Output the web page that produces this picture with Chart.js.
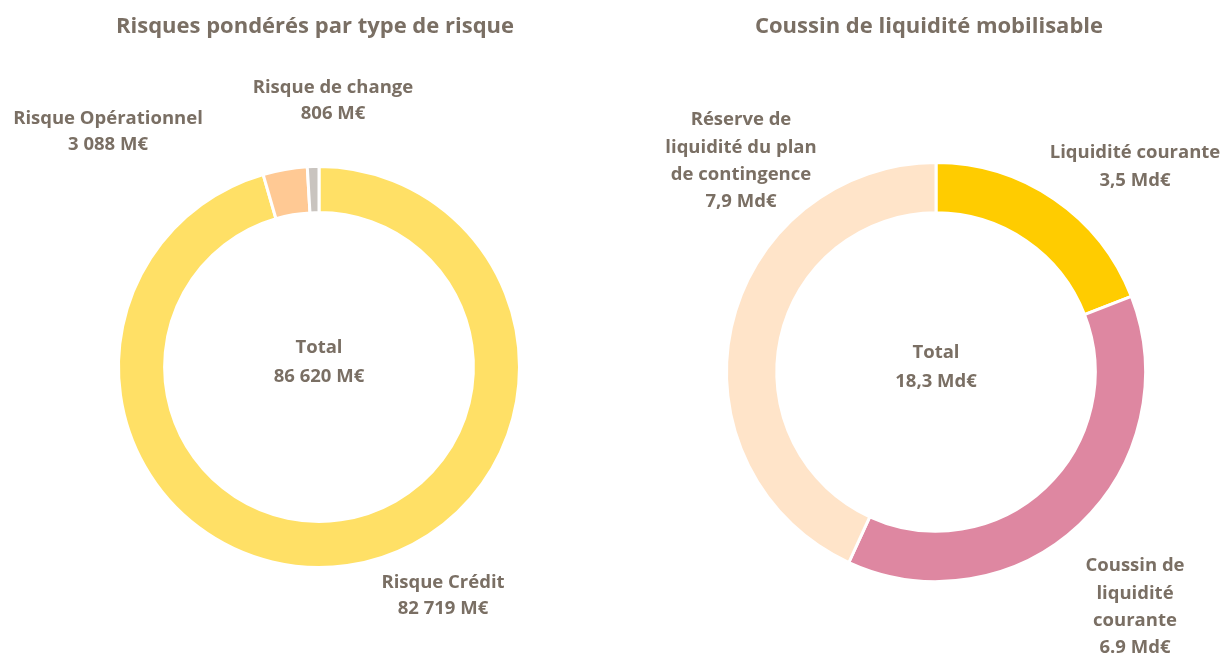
<!DOCTYPE html>
<html>
<head>
<meta charset="utf-8">
<script src="https://cdn.jsdelivr.net/npm/chart.js@4.4.0/dist/chart.umd.min.js"></script>
<style>
  body { margin: 0; background: #fff; }
  .wrap { position: absolute; top: 0; width: 612px; height: 657px; }
  #g1 { left: 0; }
  #g2 { left: 612px; }
</style>
</head>
<body>
<div class="wrap" id="g1"><canvas id="risques"></canvas></div>
<div class="wrap" id="g2"><canvas id="coussin"></canvas></div>
<script>
// donnees - risques ponderes (M€)
const risquesLabels = ['Risque Crédit', 'Risque Opérationnel', 'Risque de change'];
const risquesValues = [82719, 3088, 806];
const risquesTexts = [['Risque Crédit', '82 719 M€'], ['Risque Opérationnel', '3 088 M€'], ['Risque de change', '806 M€']];
const risquesTotal = ['Total', '86 620 M€'];

// donnees - coussin de liquidite (Md€)
const coussinLabels = ['Liquidité courante', 'Coussin de liquidité courante', 'Réserve de liquidité du plan de contingence'];
const coussinValues = [3.5, 6.9, 7.9];
const coussinTexts = [['Liquidité courante', '3,5 Md€'], ['Coussin de', 'liquidité', 'courante', '6.9 Md€'], ['Réserve de', 'liquidité du plan', 'de contingence', '7,9 Md€']];
const coussinTotal = ['Total', '18,3 Md€'];

const txtColor = '#7a6f64';
const fontFam = '"Open Sans", Lato, sans-serif';

// plugin pour titre + etiquettes (positions relatives au centre du donut)
const etiquettes = {
  id: 'etiquettes',
  afterDraw(chart, args, opts) {
    const ctx = chart.ctx;
    const arc = chart.getDatasetMeta(0).data[0];
    const cx = arc.x, cy = arc.y;
    ctx.save();
    ctx.fillStyle = txtColor;
    ctx.textAlign = 'center';
    ctx.textBaseline = 'middle';
    ctx.font = 'bold 22px ' + fontFam;
    ctx.fillText(opts.titre, opts.titreX, 27);
    ctx.font = 'bold 18.5px ' + fontFam;
    const lh = opts.lineH;
    opts.textes.forEach((lines, i) => {
      const p = opts.pos[i];
      lines.forEach((l, j) => ctx.fillText(l, cx + p[0], cy + p[1] + j * lh));
    });
    opts.total.forEach((l, j) => ctx.fillText(l, cx, cy - 19 + j * 29));
    ctx.restore();
  }
};

function makeDonut(id, labels, values, colors, pad, cut, extra) {
  return new Chart(document.getElementById(id), {
    type: 'doughnut',
    data: {
      labels: labels,
      datasets: [{
        data: values,
        backgroundColor: colors,
        borderColor: '#ffffff',
        borderWidth: 3
      }]
    },
    options: {
      responsive: true,
      maintainAspectRatio: false,
      animation: false,
      cutout: cut,
      layout: { padding: pad },
      plugins: {
        legend: { display: false },
        tooltip: { enabled: false },
        etiquettes: extra
      }
    },
    plugins: [etiquettes]
  });
}

makeDonut('risques', risquesLabels, risquesValues, ['#ffe066', '#ffc994', '#c9c4bf'],
  { left: 117, right: 91, top: 165, bottom: 88 }, '77%',
  { titre: 'Risques pondérés par type de risque', titreX: 315, textes: risquesTexts, total: risquesTotal, lineH: 26,
    pos: [[124, 216], [-211, -248], [14, -279]] });

makeDonut('coussin', coussinLabels, coussinValues, ['#ffcc00', '#de87a1', '#ffe4c9'],
  { left: 113, right: 77, top: 161, bottom: 74 }, '76%',
  { titre: 'Coussin de liquidité mobilisable', titreX: 317, textes: coussinTexts, total: coussinTotal, lineH: 27.3,
    pos: [[199, -219], [199, 194], [-195, -252]] });
</script>
</body>
</html>
